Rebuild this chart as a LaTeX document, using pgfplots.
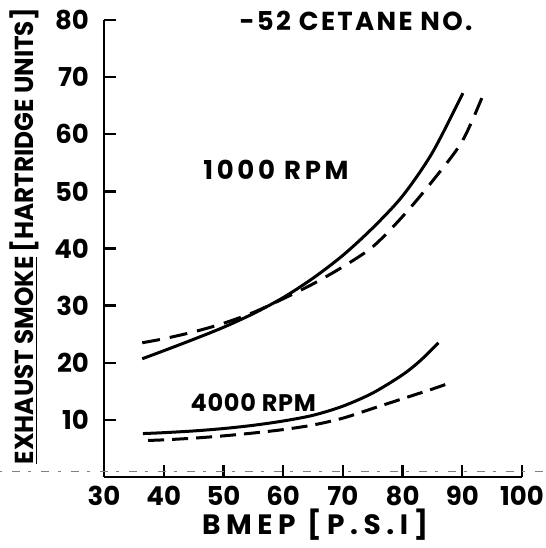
\documentclass[border=0pt]{standalone}
\usepackage{fontspec}
\setmainfont{Poppins}
\usepackage{pgfplots}
\pgfplotsset{compat=1.18}
\usetikzlibrary{calc}

% smoke readings, solid and dashed fuel curves at two engine speeds
\pgfplotstableread{
bmep smoke
36.4 20.7
40   22.1
45   24.1
50   26.2
55   28.6
60   31.4
65   34.8
70   38.8
75   43.6
80   49.2
85   56.8
90.1 67.2
}\lowSolid
\pgfplotstableread{
bmep smoke
36.4 23.5
40   24.2
45   25.4
50   26.9
55   28.8
60   31.2
65   33.8
70   36.8
75   40.3
80   45.6
85   51.8
90   58.8
93.6 67.2
}\lowDashed
\pgfplotstableread{
bmep smoke
36.5 7.6
40   7.76
45   8.06
50   8.48
55   9.05
60   9.8
65   10.8
70   12.4
75   14.7
80   17.9
83   20.4
86   23.5
}\highSolid
\pgfplotstableread{
bmep smoke
37.4 6.4
40   6.5
45   6.8
50   7.2
55   7.7
60   8.3
65   9.1
70   10.3
75   12.0
80   13.7
85   15.4
87.2 16.2
}\highDashed

\begin{document}
\begin{tikzpicture}
\begin{axis}[
  scale only axis,
  width=209pt, height=228.5pt,
  xmin=30, xmax=100, ymin=0, ymax=80,
  axis x line=bottom, axis y line=left,
  axis line style={line width=1.4pt, -},
  xtick={30,40,...,100}, ytick={10,20,...,80},
  tick align=inside, major tick length=6pt,
  tick style={line width=1.2pt, black},
  /pgf/number format/assume math mode=true,
  ticklabel style={font=\fontsize{13}{13}\selectfont\bfseries},
  yticklabel style={xshift=-4pt},
  xticklabel style={yshift=-1pt},
  clip=false,
  xlabel={\fontsize{14}{14}\selectfont\bfseries\addfontfeature{LetterSpace=20}BMEP [P.S.I]},
  xlabel style={at={(rel axis cs:0.505,-0.105)}, anchor=center},
  ylabel={\fontsize{13}{13}\selectfont\bfseries\addfontfeature{FakeStretch=0.95}\underline{EXHAUST SMOKE}\,[HARTRIDGE UNITS]},
  ylabel style={at={(rel axis cs:-0.19,0.527)}, anchor=center, rotate=0},
]
% faint scanner streak near the base line
\draw[black!50, line width=0.5pt, dash pattern=on 1.5pt off 5pt on 4pt off 4pt]
  (rel axis cs:-0.25,0.013) -- (rel axis cs:1.06,0.013);

\addplot[black, line width=1.5pt, smooth] table[x=bmep, y=smoke] {\lowSolid};
\addplot[black, line width=1.5pt, smooth, dash pattern=on 9pt off 5pt] table[x=bmep, y=smoke] {\lowDashed};
\addplot[black, line width=1.5pt, smooth] table[x=bmep, y=smoke] {\highSolid};
\addplot[black, line width=1.5pt, smooth, dash pattern=on 8pt off 4pt] table[x=bmep, y=smoke] {\highDashed};

\node[font=\fontsize{13}{13}\selectfont\bfseries] at (axis cs:58.8,53.8)
  {\addfontfeature{LetterSpace=14}1000 RPM};
\node[font=\fontsize{12}{12}\selectfont\bfseries] at (axis cs:55.0,13.0)
  {\addfontfeature{LetterSpace=3}4000 RPM};
\node[font=\fontsize{13}{13}\selectfont\bfseries] at (axis cs:72.2,79.9)
  {\addfontfeature{LetterSpace=9}-52 CETANE NO.};

\coordinate (bl) at (rel axis cs:0,0);
\coordinate (tr) at (rel axis cs:1,1);
\end{axis}
\pgfresetboundingbox
\path[use as bounding box] ($(bl)+(-52pt,-35.5pt)$) rectangle ($(tr)+(11.5pt,10pt)$);
\end{tikzpicture}
\end{document}
